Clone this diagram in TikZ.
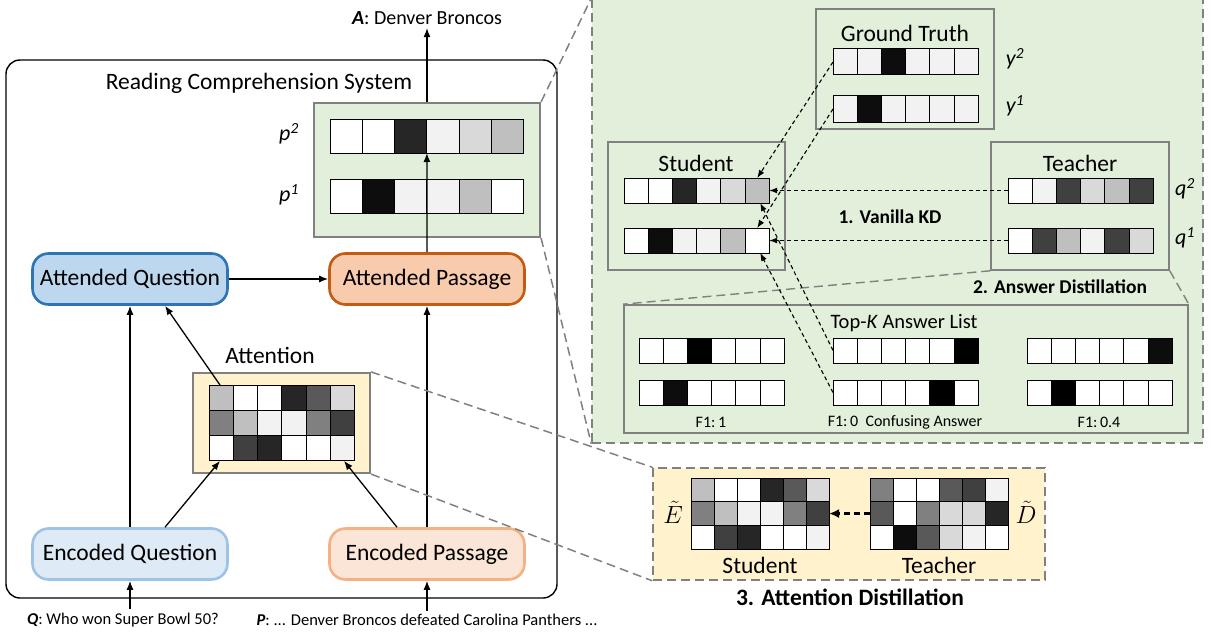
\documentclass[tikz,border=0pt]{standalone}
\usepackage{fontspec}
\setmainfont{Carlito}
\usetikzlibrary{arrows.meta,calc}
\definecolor{gA}{HTML}{F2F2F2}
\definecolor{gB}{HTML}{D9D9D9}
\definecolor{gC}{HTML}{BFBFBF}
\definecolor{gD}{HTML}{808080}
\definecolor{gE}{HTML}{595959}
\definecolor{gF}{HTML}{404040}
\definecolor{gG}{HTML}{262626}
\definecolor{gH}{HTML}{0D0D0D}
\definecolor{pgreen}{HTML}{E2EFDA}
\definecolor{ptan}{HTML}{FFF2CC}
\definecolor{framegray}{HTML}{808080}
\definecolor{aqfill}{HTML}{BDD7EE}
\definecolor{aqline}{HTML}{2E75B6}
\definecolor{apfill}{HTML}{F8CBAD}
\definecolor{apline}{HTML}{C55A11}
\definecolor{eqfill}{HTML}{DEEBF7}
\definecolor{eqline}{HTML}{9DC3E6}
\definecolor{epfill}{HTML}{FBE5D6}
\definecolor{epline}{HTML}{F4B183}
\newcommand\cellrow[6]{%
  \foreach \cc [count=\ii from 0] in {#6}{%
    \filldraw[cellline, fill=\cc] ({#2+\ii*#4},{#3}) rectangle ({#2+(\ii+1)*#4},{#3+#5});
  }%
  \node[inner sep=0pt, outer sep=0pt, minimum width={6*#4}, minimum height={#5}, anchor=north west] (#1) at (#2,#3) {};
}
\tikzset{
  every node/.style={font=\fontsize{23.5}{27}\selectfont},
  cellline/.style={draw=black, line width=1pt},
  arr/.style={-{Latex[length=9pt,width=7pt]}, line width=1.3pt},
  darr/.style={-{Latex[length=8pt,width=6pt]}, line width=1.1pt, dash pattern=on 4pt off 3pt},
  zoomline/.style={draw=framegray, line width=1.5pt, dash pattern=on 9pt off 5pt},
  qbox/.style={rounded corners=16pt, line width=2.6pt, minimum width=195pt, minimum height=51pt, inner sep=0pt},
  panel/.style={draw=framegray, line width=1.6pt, inner sep=0pt},
  small/.style={font=\fontsize{16.5}{19}\selectfont},
  flab/.style={font=\fontsize{16}{19}\selectfont},
  boldlab/.style={font=\fontsize{19.5}{23}\selectfont\bfseries},
  lab/.style={font=\fontsize{22}{26}\selectfont\itshape},
}
\begin{document}
\begin{tikzpicture}[x=1pt,y=-1pt]
\useasboundingbox (0,0) rectangle (1211,634);
% ===== left: reading comprehension system =====
\node[draw=black, line width=1.4pt, rounded corners=14pt, minimum width=551pt, minimum height=538pt, inner sep=0pt] (rcs) at (281.5,329) {};
\node (rcstitle) at (259,83) {Reading Comprehension System};
\node[font=\fontsize{20}{23}\selectfont] (ans) at (427,18) {\textbf{\textit{A}}: Denver Broncos};
\node[panel, line width=2.2pt, fill=pgreen, minimum width=226pt, minimum height=134pt] (pbox) at (427,170) {};
\cellrow{p2}{330}{119}{32.3}{34}{white,white,gG,gA,gB,gC}
\cellrow{p1}{330}{179}{32.3}{34}{white,gH,gA,gA,gC,white}
\node[lab] (p2lab) at (289,134) {p\textsuperscript{2}};
\node[lab] (p1lab) at (289,195) {p\textsuperscript{1}};
\node[qbox, draw=aqline, fill=aqfill] (AQ) at (130,279) {Attended Question};
\node[qbox, draw=apline, fill=apfill] (AP) at (427,279) {Attended Passage};
\node[qbox, draw=eqline, fill=eqfill] (EQ) at (130,554) {Encoded Question};
\node[qbox, draw=epline, fill=epfill] (EP) at (427,554) {Encoded Passage};
\node (attlab) at (270,355) {Attention};
\node[panel, line width=2.2pt, fill=ptan, minimum width=177pt, minimum height=100pt] (attbox) at (281.5,423) {};
\cellrow{m1}{209}{385}{24.33}{25.3}{gC,white,white,gG,gE,gB}
\cellrow{m2}{209}{410.3}{24.33}{25.3}{gD,gC,gA,gA,gD,gF}
\cellrow{m3}{209}{435.6}{24.33}{25.3}{white,gF,gG,white,white,gA}
\node[small] (qtxt) at (123,620) {\textbf{\textit{Q}}: Who won Super Bowl 50?};
\node[small] (ptxt) at (427,620) {\textbf{\textit{P}}: ... Denver Broncos defeated Carolina Panthers ...};
% arrows left
\draw[arr] (pbox.north) -- (ans.south);
\draw[arr] (AP.north) -- (p2.south);
\draw[arr] (AQ.east) -- (AP.west);
\draw[arr] (EQ.north) -- (AQ.south);
\draw[arr] ([xshift=35pt]EQ.north) -- ([xshift=11pt]m3.south west);
\draw[arr] ([xshift=-30pt]EP.north) -- ([xshift=-11pt]m3.south east);
\draw[arr] (EP.north) -- (AP.south);
\draw[arr] ([xshift=11pt]m1.north west) -- ([xshift=35pt]AQ.south);
\draw[arr] (EQ.south |- qtxt.north) -- (EQ.south);
\draw[arr] (EP.south |- ptxt.north) -- (EP.south);
% ===== right: answer distillation =====
\node[zoomline, fill=pgreen, minimum width=611pt, minimum height=444pt, inner sep=0pt] (green) at (897.5,221) {};
\draw[zoomline] (pbox.north east) -- (green.north west);
\draw[zoomline] (pbox.south east) -- (green.south west);
\node[panel, minimum width=178pt, minimum height=120pt] (gt) at (905,69) {};
\node (gttitle) at (905,33) {Ground Truth};
\cellrow{y2}{833}{49}{24.2}{26}{gA,gA,gH,gA,gA,gA}
\cellrow{y1}{833}{96}{24.2}{26}{gA,gH,gA,gA,gA,gA}
\node[lab] (y2lab) at (1015,59) {y\textsuperscript{2}};
\node[lab] (y1lab) at (1015,106) {y\textsuperscript{1}};
\node[panel, minimum width=177pt, minimum height=128pt] (stu) at (696.5,206) {};
\node (stutitle) at (696,163) {Student};
\cellrow{s2}{624}{178}{24.2}{25}{white,white,gG,gA,gB,gC}
\cellrow{s1}{624}{228}{24.2}{25}{white,gH,gA,gA,gC,white}
\node[panel, minimum width=178pt, minimum height=128pt] (tea) at (1080,206) {};
\node (teatitle) at (1080,163) {Teacher};
\cellrow{t2}{1008}{178}{24.2}{25}{white,gA,gF,gB,gC,gF}
\cellrow{t1}{1008}{228}{24.2}{25}{white,gF,gC,gA,gF,gB}
\node[lab] (q2lab) at (1185,189) {q\textsuperscript{2}};
\node[lab] (q1lab) at (1185,238) {q\textsuperscript{1}};
\node[boldlab] (vkd) at (890,217) {1. Vanilla KD};
\node[boldlab] (adlab) at (1060,287) {2. Answer Distillation};
\node[panel, minimum width=564pt, minimum height=128pt] (topk) at (906,369) {};
\draw[zoomline, line width=1.4pt] (tea.south west) -- (topk.north west);
\draw[zoomline, line width=1.4pt] (tea.south east) -- (topk.north east);
\node[font=\fontsize{20.5}{24}\selectfont] (topktitle) at (904,323) {Top-\textit{K} Answer List};
\cellrow{k11}{639}{338}{24.2}{25}{white,white,black,white,white,white}
\cellrow{k12}{639}{380}{24.2}{25}{white,gH,white,white,white,white}
\cellrow{k21}{833}{338}{24.2}{25}{white,white,white,white,white,black}
\cellrow{k22}{833}{380}{24.2}{25}{white,white,white,white,black,white}
\cellrow{k31}{1027}{338}{24.2}{25}{white,white,white,white,white,gH}
\cellrow{k32}{1027}{380}{24.2}{25}{white,black,white,white,white,white}
\node[flab] (f1a) at (711,422) {F1:\,1};
\node[flab] (f1b) at (905,422) {F1:\,0\ \ Confusing Answer};
\node[flab] (f1c) at (1099,422) {F1:\,0.4};
\draw[darr] (y2.west) -- ([xshift=-12pt]s2.north east);
\draw[darr] (y1.west) -- ([xshift=-12pt]s1.north east);
\draw[darr] (t2.west) -- (s2.east);
\draw[darr] (t1.west) -- (s1.east);
\draw[darr] (k21.west) -- ([xshift=-9pt]s2.south east);
\draw[darr] (k22.west) -- ([xshift=-9pt]s1.south east);
% ===== attention distillation =====
\node[zoomline, fill=ptan, minimum width=392pt, minimum height=112pt, inner sep=0pt] (adbox) at (849,524) {};
\draw[zoomline] (attbox.north east) -- (adbox.north west);
\draw[zoomline] (attbox.south east) -- (adbox.south west);
\cellrow{se1}{691}{478}{23}{23.7}{gC,white,white,gG,gE,gB}
\cellrow{se2}{691}{501.7}{23}{23.7}{gD,gC,gA,gA,gD,gF}
\cellrow{se3}{691}{525.4}{23}{23.7}{white,gF,gG,white,white,gA}
\cellrow{te1}{870}{478}{23}{23.7}{gD,white,white,gE,gF,gA}
\cellrow{te2}{870}{501.7}{23}{23.7}{gE,white,gD,gB,gB,gG}
\cellrow{te3}{870}{525.4}{23}{23.7}{white,gH,gE,gB,gA,white}
\node[font=\fontsize{23}{26}\selectfont, inner sep=1pt] (elab) at (673,512) {$\tilde{E}$};
\node[font=\fontsize{23}{26}\selectfont, inner sep=1pt] (dlab) at (1026,512) {$\tilde{D}$};
\node (adstu) at (760,565) {Student};
\node (adtea) at (939,565) {Teacher};
\node[font=\fontsize{23.5}{27}\selectfont\bfseries] (attdist) at (850,597) {3. Attention Distillation};
\draw[-{Latex[length=10pt,width=9pt]}, line width=2.2pt, dash pattern=on 6pt off 4pt] (te2.west) -- (se2.east);
\end{tikzpicture}
\end{document}
